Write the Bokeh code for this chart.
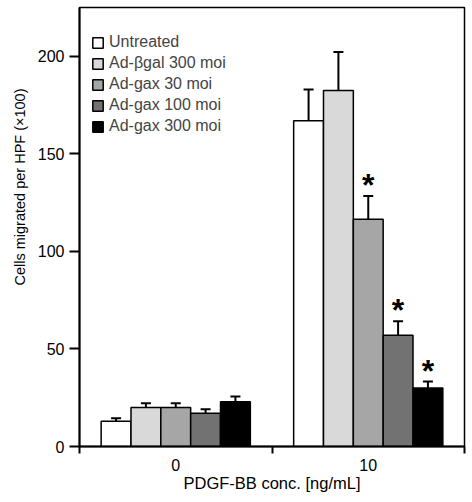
from bokeh.plotting import figure
from bokeh.models import (ColumnDataSource, Range1d, FixedTicker, Legend, LegendItem,
                          Whisker, TeeHead, Title)
from bokeh.transform import dodge
from bokeh.core.properties import value
from bokeh.embed import file_html
from bokeh.resources import INLINE

# ---- data ----
conc = ["0", "10"]
series = ["Untreated", "Ad-\u03b2gal 300 moi", "Ad-gax 30 moi", "Ad-gax 100 moi", "Ad-gax 300 moi"]
colors = ["#ffffff", "#d9d9d9", "#a6a6a6", "#727272", "#000000"]
untreated = [13, 167]
bgal300 = [20, 182.5]
gax30 = [20, 116.5]
gax100 = [17, 57]
gax300 = [23, 30]
err_untreated = [1.5, 16]
err_bgal300 = [2.2, 19.8]
err_gax30 = [2.2, 12]
err_gax100 = [2.1, 7.2]
err_gax300 = [2.6, 3.3]
sig_gax30 = ["", "*"]
sig_gax100 = ["", "*"]
sig_gax300 = ["", "*"]
y_ticks = [0, 50, 100, 150, 200]
y_title = "Cells migrated per HPF (\u00d7100)"
x_title = "PDGF-BB conc. [ng/mL]"

means = [untreated, bgal300, gax30, gax100, gax300]
errs = [err_untreated, err_bgal300, err_gax30, err_gax100, err_gax300]
sigs = [["", ""], ["", ""], sig_gax30, sig_gax100, sig_gax300]

FONT = "Liberation Sans"
xc = [i + 0.5 for i in range(len(conc))]
bar_w = 0.155

p = figure(width=472, height=502, output_backend="svg", toolbar_location=None,
           x_range=Range1d(0, 2), y_range=Range1d(0, 225.1),
           min_border_left=79, min_border_right=8, min_border_top=7, min_border_bottom=56)
p.grid.visible = False
p.outline_line_color = "black"
p.outline_line_width = 1.5
p.background_fill_color = "white"
p.border_fill_color = "white"

items = []
for k, name in enumerate(series):
    src = ColumnDataSource(dict(
        xc=xc, top=means[k],
        upper=[m + e for m, e in zip(means[k], errs[k])],
        sig=sigs[k],
    ))
    off = (k - 2) * bar_w
    r = p.vbar(x=dodge("xc", off, range=p.x_range), top="top", bottom=0, width=bar_w,
               source=src, fill_color=colors[k], line_color="black", line_width=1.5)
    items.append(LegendItem(label=name, renderers=[r]))
    w = Whisker(base=dodge("xc", off, range=p.x_range), lower="top", upper="upper",
                source=src, dimension="height", line_width=2, line_color="black",
                lower_head=None,
                upper_head=TeeHead(size=10, line_width=2, line_color="black"))
    p.add_layout(w)
    p.text(x=dodge("xc", off, range=p.x_range), y="upper", text="sig", source=src,
           text_font=value(FONT), text_font_size="32px", text_font_style="bold",
           text_align="center", text_baseline="alphabetic", y_offset=-11, text_color="black")

legend = Legend(items=items, location=(12, 311), glyph_width=13, glyph_height=13,
                label_height=16, spacing=3, padding=0, margin=0, label_standoff=5,
                label_text_font=FONT, label_text_font_size="16px",
                border_line_alpha=0, background_fill_alpha=0)
p.add_layout(legend)

# y axis
ya = p.yaxis[0]
ya.ticker = FixedTicker(ticks=y_ticks)
ya.axis_line_width = 2
ya.major_tick_line_width = 2
ya.major_tick_out = 10
ya.major_tick_in = 0
ya.minor_tick_line_color = None
ya.major_label_standoff = 5
ya.major_label_text_font = FONT
ya.major_label_text_font_size = "16px"
ya.major_label_text_color = "black"

# x axis
xa = p.xaxis[0]
xa.ticker = FixedTicker(ticks=xc, minor_ticks=[0, 1, 2])
xa.major_label_overrides = {x: c for x, c in zip(xc, conc)}
xa.axis_line_width = 2
xa.major_tick_out = 0
xa.major_tick_in = 0
xa.minor_tick_out = 7
xa.minor_tick_in = 0
xa.minor_tick_line_width = 2
xa.major_label_standoff = 5
xa.major_label_text_font = FONT
xa.major_label_text_font_size = "16px"
xa.major_label_text_color = "black"
xa.axis_label = x_title
xa.axis_label_text_font = FONT
xa.axis_label_text_font_size = "16.5px"
xa.axis_label_text_font_style = "normal"
xa.axis_label_text_color = "black"
xa.axis_label_standoff = 0

p.add_layout(Title(text=y_title, align="right", offset=81,
                   text_font=FONT, text_font_size="14.5px", text_font_style="normal",
                   text_color="black", standoff=14), "left")

open("out.html", "w").write(file_html(p, INLINE))
